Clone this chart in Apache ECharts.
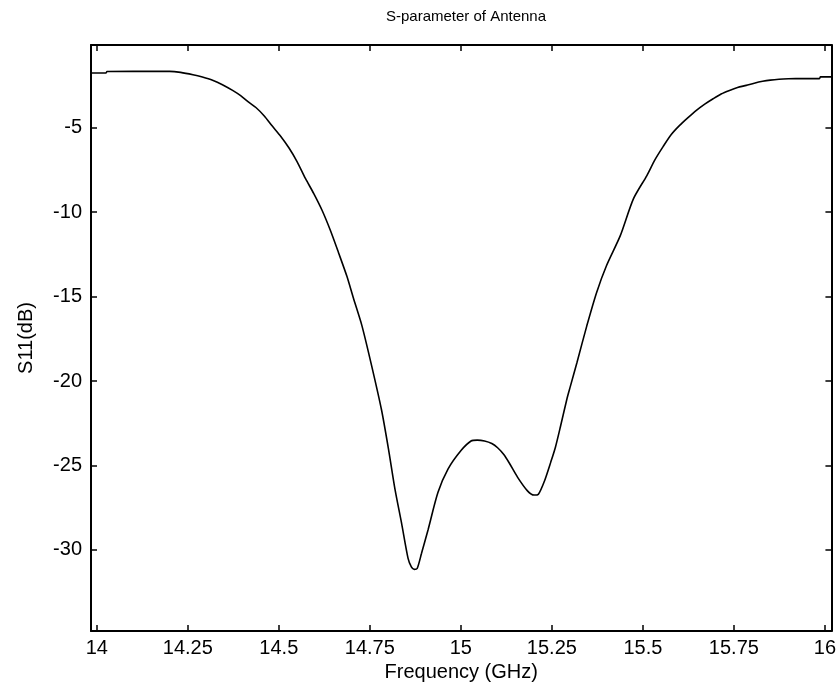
<!DOCTYPE html>
<html>
<head>
<meta charset="utf-8">
<script src="https://cdn.jsdelivr.net/npm/echarts@6/dist/echarts.min.js"></script>
<style>
  html, body { margin: 0; padding: 0; background: #fff; }
  #chart { width: 839px; height: 692px; }
</style>
</head>
<body>
<div id="chart"></div>
<script>
// Measured S11 of the antenna, frequency in GHz, magnitude in dB
const freq = [
  13.984, 14.025, 14.028, 14.10, 14.20, 14.23, 14.264, 14.29, 14.318, 14.345,
  14.373, 14.395, 14.418, 14.437, 14.46, 14.482, 14.505, 14.528, 14.55, 14.573,
  14.596, 14.619, 14.642, 14.664, 14.687, 14.705, 14.728, 14.755, 14.782, 14.801,
  14.819, 14.837, 14.855, 14.864, 14.872, 14.880, 14.892, 14.910, 14.937, 14.965,
  15.001, 15.028, 15.045, 15.065, 15.085, 15.101, 15.118, 15.133, 15.156, 15.183,
  15.201, 15.213, 15.230, 15.247, 15.260, 15.274, 15.292, 15.301, 15.319,
  15.346, 15.373, 15.400, 15.438, 15.474, 15.511, 15.533, 15.556, 15.578, 15.601,
  15.624, 15.647, 15.67, 15.693, 15.715, 15.738, 15.76, 15.784, 15.806, 15.829,
  15.85, 15.874, 15.90, 15.920, 15.95, 15.985, 15.988, 16.018
];
const s11 = [
  -1.76, -1.76, -1.67, -1.66, -1.66, -1.72, -1.86, -2.0, -2.19, -2.45,
  -2.79, -3.1, -3.5, -3.8, -4.3, -4.9, -5.5, -6.2, -7.0, -8.0,
  -8.9, -9.9, -11.1, -12.4, -13.8, -15.1, -16.7, -19.1, -21.7, -24.0,
  -26.4, -28.4, -30.5, -31.0, -31.15, -31.1, -30.2, -28.8, -26.6, -25.2,
  -24.1, -23.55, -23.5, -23.55, -23.7, -23.95, -24.35, -24.85, -25.7, -26.5,
  -26.75, -26.7, -25.9, -24.8, -23.9, -22.66, -21.0, -20.3, -18.9,
  -16.73, -14.75, -13.17, -11.39, -9.21, -7.83, -6.9, -6.1, -5.4, -4.86,
  -4.4, -3.97, -3.6, -3.28, -3.0, -2.79, -2.62, -2.49, -2.36, -2.25,
  -2.18, -2.13, -2.1, -2.09, -2.09, -2.09, -1.99, -1.99
];
const xTicks = [14, 14.25, 14.5, 14.75, 15, 15.25, 15.5, 15.75, 16];
const yTicks = [-30, -25, -20, -15, -10, -5];

const FONT = '"Liberation Sans", Arial, sans-serif';
const X_MIN = 13.984, X_MAX = 16.018;
const Y_MIN = -34.8, Y_MAX = -0.1;

function xAxisDef(pos, showLabel) {
  return {
    type: 'value', position: pos, min: X_MIN, max: X_MAX,
    axisLine: { show: true, onZero: false, lineStyle: { color: '#000', width: 2 } },
    axisTick: { show: true, inside: true, length: 6, customValues: xTicks,
                lineStyle: { color: '#000', width: 1.5 } },
    axisLabel: { show: showLabel, customValues: xTicks, color: '#000',
                 fontFamily: FONT, fontSize: 20, margin: 7 },
    splitLine: { show: false }
  };
}
function yAxisDef(pos, showLabel) {
  return {
    type: 'value', position: pos, min: Y_MIN, max: Y_MAX,
    axisLine: { show: true, onZero: false, lineStyle: { color: '#000', width: 2 } },
    axisTick: { show: true, inside: true, length: 6, customValues: yTicks,
                lineStyle: { color: '#000', width: 1.5 } },
    axisLabel: { show: showLabel, customValues: yTicks, color: '#000',
                 fontFamily: FONT, fontSize: 20, margin: 9 },
    splitLine: { show: false }
  };
}

const xBottom = xAxisDef('bottom', true);
xBottom.name = 'Frequency (GHz)';
xBottom.nameLocation = 'middle';
xBottom.nameGap = 25;
xBottom.nameTextStyle = { color: '#000', fontFamily: FONT, fontSize: 20 };

const yLeft = yAxisDef('left', true);
yLeft.name = 'S11(dB)';
yLeft.nameLocation = 'middle';
yLeft.nameGap = 55;
yLeft.nameTextStyle = { color: '#000', fontFamily: FONT, fontSize: 20 };

const chart = echarts.init(document.getElementById('chart'), null, { renderer: 'canvas' });
chart.setOption({
  backgroundColor: '#fff',
  animation: false,
  title: {
    text: 'S-parameter of Antenna',
    left: 461, top: 4, textAlign: 'center',
    textStyle: { color: '#000', fontFamily: FONT, fontSize: 15, fontWeight: 'normal' }
  },
  grid: { left: 91, right: 3, top: 45, bottom: 61, containLabel: false },
  xAxis: [xBottom, xAxisDef('top', false)],
  yAxis: [yLeft, yAxisDef('right', false)],
  series: [{
    type: 'line',
    xAxisIndex: 0, yAxisIndex: 0,
    data: freq.map((f, i) => [f, s11[i]]),
    showSymbol: false,
    smooth: 0.25,
    lineStyle: { color: '#000', width: 1.6 }
  }]
});
</script>
</body>
</html>
